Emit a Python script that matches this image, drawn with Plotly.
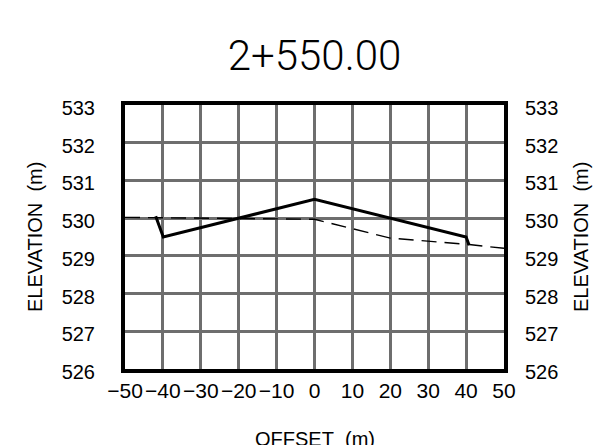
import plotly.graph_objects as go

# Proposed section (solid)
design_offset = [-41.9, -39.9, 0.0, 40.0, 40.8]
design_elev = [530.05, 529.5, 530.5, 529.5, 529.28]

# Existing ground (dashed)
ground_offset = [-50, -20, 0, 20, 40.8, 50]
ground_elev = [530.02, 530.0, 529.97, 529.47, 529.3, 529.2]

x_ticks = [-50, -40, -30, -20, -10, 0, 10, 20, 30, 40, 50]
y_ticks = [526, 527, 528, 529, 530, 531, 532, 533]

title_text = "2+550.00"
x_title = "OFFSET\u00a0\u00a0(m)"
y_title = "ELEVATION\u00a0\u00a0(m)"

FONT = "Liberation Sans"

# page body has an 8px margin: compensate so the figure fits the window
W, H = 600, 437
L, T = 117, 97
PW, PH = 379, 264
R = W - L - PW
B = H - T - PH

fig = go.Figure()
fig.add_trace(go.Scatter(x=ground_offset, y=ground_elev, mode="lines",
                         line=dict(color="black", width=1.4, dash="15px,8px"),
                         showlegend=False, hoverinfo="skip"))
fig.add_trace(go.Scatter(x=design_offset, y=design_elev, mode="lines",
                         line=dict(color="black", width=3),
                         showlegend=False, hoverinfo="skip"))
# invisible trace to activate right axis
fig.add_trace(go.Scatter(x=[0], y=[530], yaxis="y2", mode="markers",
                         marker=dict(opacity=0), showlegend=False, hoverinfo="skip"))

fig.update_layout(
    width=W, height=H,
    margin=dict(l=L, r=R, t=T, b=B),
    paper_bgcolor="white", plot_bgcolor="white",
    font=dict(family=FONT, color="black", size=20),
    title=dict(text=title_text, x=(314.5 - 8) / W, xanchor="center",
               y=1 - (55 - 8) / H, yanchor="middle",
               font=dict(size=42, family="Roboto", weight=300)),
    xaxis=dict(range=[-50, 50], tickvals=x_ticks, showgrid=True, gridcolor="#6e6e6e",
               gridwidth=2.5, zeroline=False, showline=True, linecolor="black", linewidth=4,
               mirror=True, ticks="", tickfont=dict(size=21), ticklabelstandoff=0),
    yaxis=dict(range=[526, 533], tickvals=y_ticks, showgrid=True, gridcolor="#6e6e6e",
               gridwidth=2.5, zeroline=False, showline=True, linecolor="black", linewidth=4,
               mirror=True, ticks="", ticklabelstandoff=22, ticklabelshift=3),
    yaxis2=dict(range=[526, 533], tickvals=y_ticks, overlaying="y", side="right",
                showgrid=False, zeroline=False, showline=False, ticks="",
                ticklabelstandoff=20, ticklabelshift=3),
    annotations=[
        dict(text=x_title, xref="paper", yref="paper", x=0.5, y=-(439 - 369) / PH,
             xanchor="center", yanchor="middle", showarrow=False, font=dict(size=20)),
        dict(text=y_title, xref="paper", yref="paper", x=(35 - 125) / PW, y=0.5,
             xanchor="center", yanchor="middle", showarrow=False, textangle=-90,
             font=dict(size=20)),
        dict(text=y_title, xref="paper", yref="paper", x=(581 - 125) / PW, y=0.5,
             xanchor="center", yanchor="middle", showarrow=False, textangle=-90,
             font=dict(size=20)),
    ],
)

fig.write_html("out.html")
